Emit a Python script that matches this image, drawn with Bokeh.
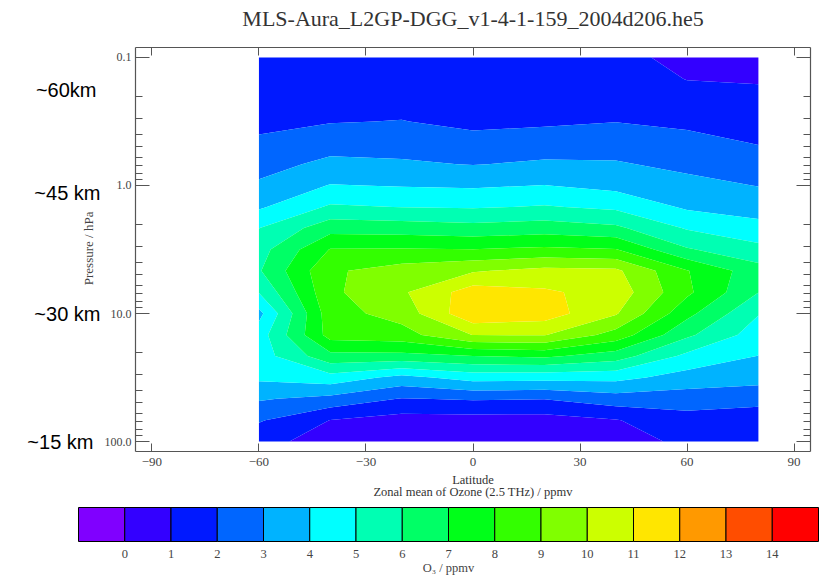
import numpy as np
from bokeh.plotting import figure
from bokeh.models import Range1d, FixedTicker, LinearAxis
from bokeh.layouts import column, row
from bokeh.embed import file_html
from bokeh.resources import INLINE
from bokeh.core.properties import value

# ---------------- data ----------------
title_text = "MLS-Aura_L2GP-DGG_v1-4-1-159_2004d206.he5"
x_title = "Latitude"
x_subtitle = "Zonal mean of Ozone (2.5 THz) / ppmv"
y_title = "Pressure / hPa"
cb_title = "O\u2083 / ppmv"

latitudes = [-60, -40, -20, 0, 20, 40, 60, 80]
pressure_hpa = [100.0, 68.1, 46.4, 31.6, 21.5, 14.7, 10.0, 6.81, 4.64, 3.16,
                2.15, 1.47, 1.0, 0.681, 0.464, 0.316, 0.215, 0.147, 0.1]

# zonal mean ozone (ppmv) for each latitude, from 100 hPa up to 0.1 hPa
o3_lat_m60 = [1.3, 2.1, 3.1, 4.2, 4.5, 4.5, 3.7, 5.05, 5.9, 5.6, 4.98, 3.86, 3.16, 2.62, 2.13, 1.8, 1.6, 1.45, 1.35]
o3_lat_m40 = [0.6, 0.98, 2.7, 4.6, 6.7, 8.4, 8.6, 8.8, 8.85, 8.05, 6.6, 5.14, 4.05, 3.25, 2.57, 1.95, 1.7, 1.5, 1.35]
o3_lat_m20 = [0.4, 0.6, 1.95, 3.7, 6.7, 8.6, 9.4, 9.85, 9.45, 8.07, 6.5, 4.98, 3.94, 3.14, 2.55, 2.03, 1.65, 1.45, 1.3]
o3_lat_0 = [0.35, 0.6, 2.1, 4.4, 7.0, 10.02, 11.8, 11.5, 9.9, 8.02, 6.35, 4.9, 3.87, 2.96, 2.34, 1.75, 1.5, 1.35, 1.25]
o3_lat_20 = [0.3, 0.6, 2.02, 4.35, 7.2, 10.05, 11.5, 11.15, 10.3, 8.2, 6.5, 5.08, 4.02, 3.15, 2.45, 1.85, 1.5, 1.3, 1.15]
o3_lat_40 = [0.6, 0.95, 2.55, 4.3, 6.5, 8.6, 10.1, 10.6, 10.2, 8.05, 6.2, 4.8, 3.7, 3.1, 2.5, 1.98, 1.7, 1.4, 1.15]
o3_lat_60 = [1.2, 1.6, 2.5, 3.6, 4.75, 6.2, 7.3, 8.2, 8.05, 6.1, 4.9, 3.85, 3.3, 2.75, 2.3, 1.8, 1.3, 0.98, 0.85]
o3_lat_80 = [1.15, 1.5, 2.3, 3.4, 3.98, 4.5, 5.05, 6.02, 6.4, 5.3, 4.3, 3.6, 2.97, 2.45, 1.95, 1.6, 1.3, 0.9, 0.6]

# colour levels (ppmv) and their fills
cb_levels = [-1, 0, 1, 2, 3, 4, 5, 6, 7, 8, 9, 10, 11, 12, 13, 14, 15]
cb_colors = ["#8000FF", "#3300FF", "#0019FF", "#0066FF", "#00B3FF", "#00FFFF",
             "#00FFB3", "#00FF66", "#00FF19", "#33FF00", "#80FF00", "#CCFF00",
             "#FFE600", "#FF9900", "#FF4D00", "#FF0000"]
cb_ticks = [0, 1, 2, 3, 4, 5, 6, 7, 8, 9, 10, 11, 12, 13, 14]

lat_ticks = [-90, -60, -30, 0, 30, 60, 90]
p_major = [0.1, 1.0, 10.0, 100.0]
p_major_labels = ["0.1", "1.0", "10.0", "100.0"]

km_texts = ["~60km", "~45 km", "~30 km", "~15 km"]
km_pressures = [0.18, 1.15, 10.0, 100.0]

SERIF = "Liberation Serif"
TXT = "#333333"
AX = "#555555"

# page layout (pixels)
W = 819
H_TOP = 30
FRAME_L, FRAME_R = 135, 810
LEFT_W = 101
H_MID = 443
H_CB = 104
frame_cx = (FRAME_L + FRAME_R) / 2


def blank(fig):
    fig.outline_line_color = None
    fig.grid.visible = False
    fig.background_fill_color = "white"
    fig.border_fill_color = "white"


# ---------------- title strip ----------------
tf = figure(width=W, height=H_TOP, x_range=Range1d(0, W), y_range=Range1d(H_TOP, 0),
            toolbar_location=None, output_backend="svg", min_border_left=0,
            min_border_right=0, min_border_top=0, min_border_bottom=0,
            x_axis_type=None, y_axis_type=None)
blank(tf)
tf.text(x=[frame_cx], y=[18], text=[title_text], text_font=value(SERIF),
        text_font_size="22px", text_color=TXT, text_align="center", text_baseline="middle")

# ---------------- main plot ----------------
o3_grid = np.column_stack([o3_lat_m60, o3_lat_m40, o3_lat_m20, o3_lat_0,
                           o3_lat_20, o3_lat_40, o3_lat_60, o3_lat_80])
logp = np.log10(np.array(pressure_hpa))

p = figure(width=W - LEFT_W, height=H_MID, x_range=Range1d(-94.6, 94.6),
           y_range=Range1d(2.078, -1.078), toolbar_location=None,
           output_backend="svg", min_border_left=FRAME_L - LEFT_W,
           min_border_right=W - FRAME_R, min_border_top=17, min_border_bottom=22)
blank(p)

p.contour(x=latitudes, y=logp, z=o3_grid, levels=cb_levels,
          fill_color=cb_colors, line_color=None)

major_y = [float(np.log10(v)) for v in p_major]
minor_y = [float(np.log10(k * 10.0 ** d)) for d in (-1, 0, 1) for k in range(2, 10)]
yticker = FixedTicker(ticks=major_y, minor_ticks=minor_y)
xticker = FixedTicker(ticks=lat_ticks, minor_ticks=[])


def style_axis(ax, major_len, minor_len):
    ax.axis_line_color = AX
    ax.axis_line_width = 1.2
    ax.major_tick_line_color = AX
    ax.minor_tick_line_color = AX
    ax.major_tick_in = major_len
    ax.major_tick_out = 0
    ax.minor_tick_in = minor_len
    ax.minor_tick_out = 0
    ax.major_label_text_font = SERIF
    ax.major_label_text_color = "#444444"


xa = p.xaxis[0]
xa.ticker = xticker
style_axis(xa, 8, 0)
xa.major_label_text_font_size = "13px"
xa.major_label_standoff = 6

ya = p.yaxis[0]
ya.ticker = yticker
ya.major_label_overrides = {t: lab for t, lab in zip(major_y, p_major_labels)}
style_axis(ya, 14, 7)
ya.major_label_text_font_size = "12px"
ya.major_label_standoff = 4

top_ax = LinearAxis(ticker=xticker)
style_axis(top_ax, 8, 0)
top_ax.major_label_overrides = {t: "" for t in lat_ticks}
top_ax.major_label_standoff = 0
p.add_layout(top_ax, "above")

right_ax = LinearAxis(ticker=yticker)
style_axis(right_ax, 14, 7)
right_ax.major_label_overrides = {t: "" for t in major_y}
right_ax.major_label_standoff = 0
p.add_layout(right_ax, "right")

# ---------------- left strip: altitude notes and pressure label ----------------
lf = figure(width=LEFT_W, height=H_MID, x_range=Range1d(0, LEFT_W), y_range=p.y_range,
            toolbar_location=None, output_backend="svg",
            min_border_left=0, min_border_right=0, min_border_top=17, min_border_bottom=22,
            x_axis_type=None, y_axis_type=None)
blank(lf)
lf.text(x=[96, 100, 100, 93], y=np.log10(km_pressures), text=km_texts,
        text_font=value("Liberation Sans"), text_font_size="20px", text_color="black",
        text_align="right", text_baseline="middle")
lf.text(x=[88], y=[float(np.log10(3.1))], text=[y_title], angle=np.pi / 2,
        text_font=value(SERIF), text_font_size="13px", text_color="#444444",
        text_align="center", text_baseline="middle")

# ---------------- x titles and colour bar ----------------
px_per_level = 46.25
cb_left_px = 78
cb = figure(width=W, height=H_CB,
            x_range=Range1d(cb_levels[0] - cb_left_px / px_per_level,
                            cb_levels[-1] + (W - 818) / px_per_level),
            y_range=Range1d(H_CB, 0), toolbar_location=None, output_backend="svg",
            min_border_left=0, min_border_right=0, min_border_top=0, min_border_bottom=0,
            x_axis_type=None, y_axis_type=None)
blank(cb)

x_mid = cb_levels[0] + (frame_cx - cb_left_px) / px_per_level
cb.text(x=[x_mid, x_mid], y=[6, 18], text=[x_title, x_subtitle],
        text_font=value(SERIF), text_font_size="12.5px", text_color=TXT,
        text_align="center", text_baseline="middle")

cb.quad(left=cb_levels[:-1], right=cb_levels[1:], top=34, bottom=68,
        fill_color=cb_colors, line_color="black", line_width=1)
cb.text(x=cb_ticks, y=[80] * len(cb_ticks), text=[str(t) for t in cb_ticks],
        text_font=value(SERIF), text_font_size="12.5px", text_color="#444444",
        text_align="center", text_baseline="middle")
cb.text(x=[(cb_levels[0] + cb_levels[-1]) / 2], y=[94], text=[cb_title],
        text_font=value(SERIF), text_font_size="12.5px", text_color="#444444",
        text_align="center", text_baseline="middle")

layout = column(tf, row(lf, p), cb)
open("out.html", "w").write(file_html(layout, INLINE))
